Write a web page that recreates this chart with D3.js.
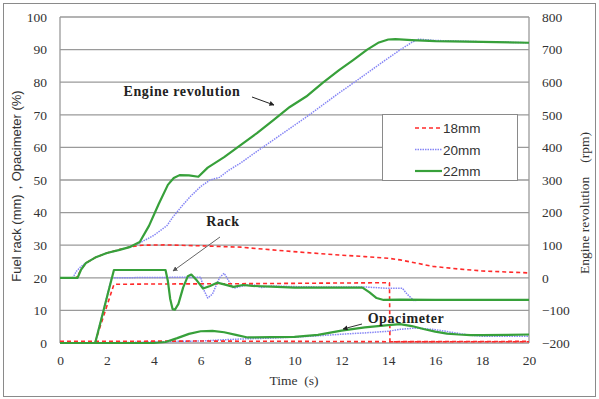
<!DOCTYPE html>
<html>
<head>
<meta charset="utf-8">
<script src="https://cdn.jsdelivr.net/npm/d3@7"></script>
<style>
  body { margin: 0; background: #fff; }
  svg { display: block; }
</style>
</head>
<body>
<svg width="599" height="399"></svg>
<script>
// time ticks and axis ticks
const timeTicks = [0, 2, 4, 6, 8, 10, 12, 14, 16, 18, 20];
const leftTicks = [0, 10, 20, 30, 40, 50, 60, 70, 80, 90, 100];
const rightTicks = [-200, -100, 0, 100, 200, 300, 400, 500, 600, 700, 800];

// engine revolution (rpm), [time s, value]
const engine18 = [[0,0],[0.7,0],[0.9,25],[1.1,45],[1.5,62],[2,76],[2.5,86],[3,95],[3.5,100],[4.5,101],[6,98],[7.7,94],[9,86],[10.2,79],[11.9,70],[13,65],[14,60],[14.5,55],[15.2,45],[15.9,35],[17,27],[18,21],[19,18],[20,15]];
const engine20 = [[0,0],[0.55,0],[0.7,20],[0.9,35],[1.1,45],[1.5,62],[2,76],[2.5,85],[3,95],[3.4,107],[4,130],[4.56,160],[4.82,187],[5.2,220],[5.54,248],[6,280],[6.4,300],[6.8,308],[7.2,330],[7.7,352],[8.4,388],[9.1,423],[9.8,458],[10.5,493],[11.2,530],[11.9,567],[12.5,597],[13.1,628],[13.8,664],[14.5,699],[15,722],[15.3,732],[16,728],[18,724],[20,721]];
const engine22 = [[0,0],[0.75,0],[0.9,25],[1.1,45],[1.5,62],[2,76],[2.5,85],[3,95],[3.4,110],[3.8,160],[4.2,225],[4.6,285],[4.85,306],[5.1,315],[5.5,314],[5.9,310],[6.3,338],[7,370],[7.7,407],[8.4,444],[9.1,484],[9.8,524],[10.5,556],[11.2,598],[11.9,637],[12.5,668],[13.1,700],[13.6,722],[14,731],[14.3,732],[15,729],[16,726],[18,724],[20,721]];

// fuel rack (mm)
const rack18 = [[0,0.3],[1.5,0.3],[2.3,18],[4,18.1],[8,18.2],[12,18.4],[14.05,18.5],[14.07,0.4],[20,0.4]];
const rack20 = [[0,0],[1.5,0],[2.2,20],[6,20.2],[6.15,16],[6.3,13.8],[6.5,15],[6.8,20],[7,21.4],[7.2,19],[7.4,16.8],[7.8,17.5],[8.2,18],[8.6,17],[9,17.5],[10,17.3],[11,17.2],[12,17.2],[13,17.2],[13.9,16.8],[14.6,16.8],[14.8,15],[15.1,13],[15.5,13.3],[20,13.2]];
const rack22 = [[0,0],[1.5,0],[2.3,22.4],[4.5,22.4],[4.6,19],[4.7,13.5],[4.8,10.4],[4.9,10.2],[5.05,12],[5.25,17],[5.45,20.5],[5.6,21],[5.8,19.5],[6.1,16.7],[6.4,17.5],[6.7,18.5],[7,18],[7.4,17.2],[7.8,17.8],[8.2,17.5],[9,17.3],[10,17],[12,17],[12.9,17],[13.2,15.5],[13.5,13.8],[13.8,13.2],[14.5,13.3],[16,13.2],[20,13.2]];

// opacimeter (%)
const opac18 = [[0,0.5],[6,0.6],[14,0.4],[20,0.5]];
const opac20 = [[0,0],[1.5,0],[4,0.3],[5,0.5],[6,0.6],[7,1],[8,1.3],[9,1.5],[10,1.8],[11,2.2],[12,2.7],[13,3.1],[14,3.6],[14.5,4.2],[15.2,4.6],[16,4.1],[16.6,3.4],[17.2,2.7],[17.6,2.3],[18,2.1],[20,2.1]];
const opac22 = [[0,0],[4,0],[4.5,0.3],[5,1.5],[5.5,2.8],[6,3.6],[6.5,3.7],[7,3.3],[7.5,2.5],[8,1.7],[9,1.8],[10,1.9],[11,2.5],[12,3.8],[13,4.8],[14,5.5],[14.5,5.8],[15,5.2],[15.5,4.3],[16,3.5],[16.5,2.9],[17,2.6],[17.5,2.4],[18,2.4],[20,2.6]];

const legendNames = ["18mm", "20mm", "22mm"];

var svg = d3.select("svg");
var red = "#ff2a2a", blue = "#8585f5", green = "#37a03a";

var x = d3.scaleLinear().domain([0, 20]).range([60, 529]);
var yL = d3.scaleLinear().domain([0, 100]).range([343, 17]);
var yR = d3.scaleLinear().domain([-200, 800]).range([343, 17]);

// outer frame
svg.append("rect")
    .attr("x", 3.5).attr("y", 3.5).attr("width", 592).attr("height", 393)
    .attr("fill", "none").attr("stroke", "#8a8a8a");

// grid
svg.append("g").selectAll("line")
    .data(leftTicks)
    .enter().append("line")
    .attr("x1", x(0)).attr("x2", x(20))
    .attr("y1", d => yL(d)).attr("y2", d => yL(d))
    .attr("stroke", "#9a9a9a").attr("stroke-width", 1.3);

svg.append("line")
    .attr("x1", x(0)).attr("x2", x(0)).attr("y1", yL(0)).attr("y2", yL(100))
    .attr("stroke", "#9a9a9a").attr("stroke-width", 1.3);
svg.append("line")
    .attr("x1", x(20)).attr("x2", x(20)).attr("y1", yL(0)).attr("y2", yL(100))
    .attr("stroke", "#9a9a9a").attr("stroke-width", 1.3);

// axes
var serif = "'Liberation Serif', 'Times New Roman', serif";

var leftAxis = svg.append("g")
    .attr("transform", "translate(" + x(0) + ",0)")
    .call(d3.axisLeft(yL).tickValues(leftTicks).tickSize(0).tickPadding(13));
var rightAxis = svg.append("g")
    .attr("transform", "translate(" + x(20) + ",0)")
    .call(d3.axisRight(yR).tickValues(rightTicks).tickSize(0).tickPadding(13));
var bottomAxis = svg.append("g")
    .attr("transform", "translate(0," + yL(0) + ")")
    .call(d3.axisBottom(x).tickValues(timeTicks).tickSize(0).tickPadding(12));

[leftAxis, rightAxis, bottomAxis].forEach(a => {
    a.select(".domain").remove();
    a.selectAll("text")
        .attr("font-family", serif)
        .attr("font-size", 13.5)
        .attr("fill", "#333");
});

// series
var line = (ys) => d3.line().x(d => x(d[0])).y(d => ys(d[1]));

function drawSeries(data, ys, color, dash, width) {
    svg.append("path")
        .datum(data)
        .attr("d", line(ys))
        .attr("fill", "none")
        .attr("stroke", color)
        .attr("stroke-width", width)
        .attr("stroke-dasharray", dash)
        .attr("stroke-linejoin", "round");
}

drawSeries(engine20, yR, blue, "1.5,1", 1.5);
drawSeries(rack20, yL, blue, "1.5,1", 1.5);
drawSeries(opac20, yL, blue, "1.5,1", 1.5);
drawSeries(engine18, yR, red, "4,3", 1.6);
drawSeries(rack18, yL, red, "4,3", 1.6);
drawSeries(opac18, yL, red, "4,3", 1.6);
drawSeries(engine22, yR, green, null, 2.2);
drawSeries(rack22, yL, green, null, 2.2);
drawSeries(opac22, yL, green, null, 2.2);

// legend
var legend = svg.append("g");
legend.append("rect")
    .attr("x", 382.5).attr("y", 114.5).attr("width", 135).attr("height", 66)
    .attr("fill", "#fff").attr("stroke", "#8a8a8a");
var legendStyles = [[red, "4,3", 1.6], [blue, "1.5,1", 1.5], [green, null, 2.2]];
legendNames.forEach((name, i) => {
    var ly = 128 + i * 21.5;
    legend.append("line")
        .attr("x1", 415).attr("x2", 442).attr("y1", ly).attr("y2", ly)
        .attr("stroke", legendStyles[i][0])
        .attr("stroke-dasharray", legendStyles[i][1])
        .attr("stroke-width", legendStyles[i][2]);
    legend.append("text")
        .attr("x", 443).attr("y", ly + 5)
        .attr("font-family", "'Liberation Sans', Arial, sans-serif")
        .attr("font-size", 13.5)
        .attr("fill", "#333")
        .text(name);
});

// axis titles
svg.append("text")
    .attr("transform", "translate(21,186) rotate(-90)")
    .attr("text-anchor", "middle")
    .attr("font-family", "'Liberation Sans', Arial, sans-serif")
    .attr("font-size", 13)
    .attr("fill", "#333")
    .text("Fuel rack (mm)，Opacimeter (%)");

svg.append("text")
    .attr("transform", "translate(589,203) rotate(-90)")
    .attr("text-anchor", "middle")
    .attr("font-family", serif)
    .attr("font-size", 13.5)
    .attr("fill", "#333")
    .attr("xml:space", "preserve")
    .text("Engine revolution　(rpm)");

svg.append("text")
    .attr("x", 294).attr("y", 385)
    .attr("text-anchor", "middle")
    .attr("font-family", serif)
    .attr("font-size", 13.5)
    .attr("fill", "#333")
    .attr("xml:space", "preserve")
    .text("Time  (s)");

// annotations
var defs = svg.append("defs");
[["arrowDark", "#222"], ["arrowGray", "#555"]].forEach(a => {
    defs.append("marker")
        .attr("id", a[0])
        .attr("viewBox", "0 -5 10 10")
        .attr("refX", 9).attr("refY", 0)
        .attr("markerWidth", 5).attr("markerHeight", 5)
        .attr("orient", "auto")
        .append("path")
        .attr("d", "M0,-5L10,0L0,5Z")
        .attr("fill", a[1]);
});

var notes = [
    {text: "Engine revolution", tx: 182, ty: 96, from: [252, 97], to: [274, 105], c: "#222", m: "arrowDark"},
    {text: "Rack", tx: 223, ty: 226, from: [220, 237], to: [173, 271], c: "#666", m: "arrowGray"},
    {text: "Opacimeter", tx: 406, ty: 323, from: [362, 324], to: [343, 329], c: "#333", m: "arrowDark"}
];
notes.forEach(n => {
    svg.append("text")
        .attr("x", n.tx).attr("y", n.ty)
        .attr("text-anchor", "middle")
        .attr("font-family", serif)
        .attr("font-weight", "bold")
        .attr("font-size", 14)
        .attr("letter-spacing", 0.6)
        .attr("fill", "#222")
        .text(n.text);
    svg.append("line")
        .attr("x1", n.from[0]).attr("y1", n.from[1])
        .attr("x2", n.to[0]).attr("y2", n.to[1])
        .attr("stroke", n.c).attr("stroke-width", 1)
        .attr("marker-end", "url(#" + n.m + ")");
});
</script>
</body>
</html>
